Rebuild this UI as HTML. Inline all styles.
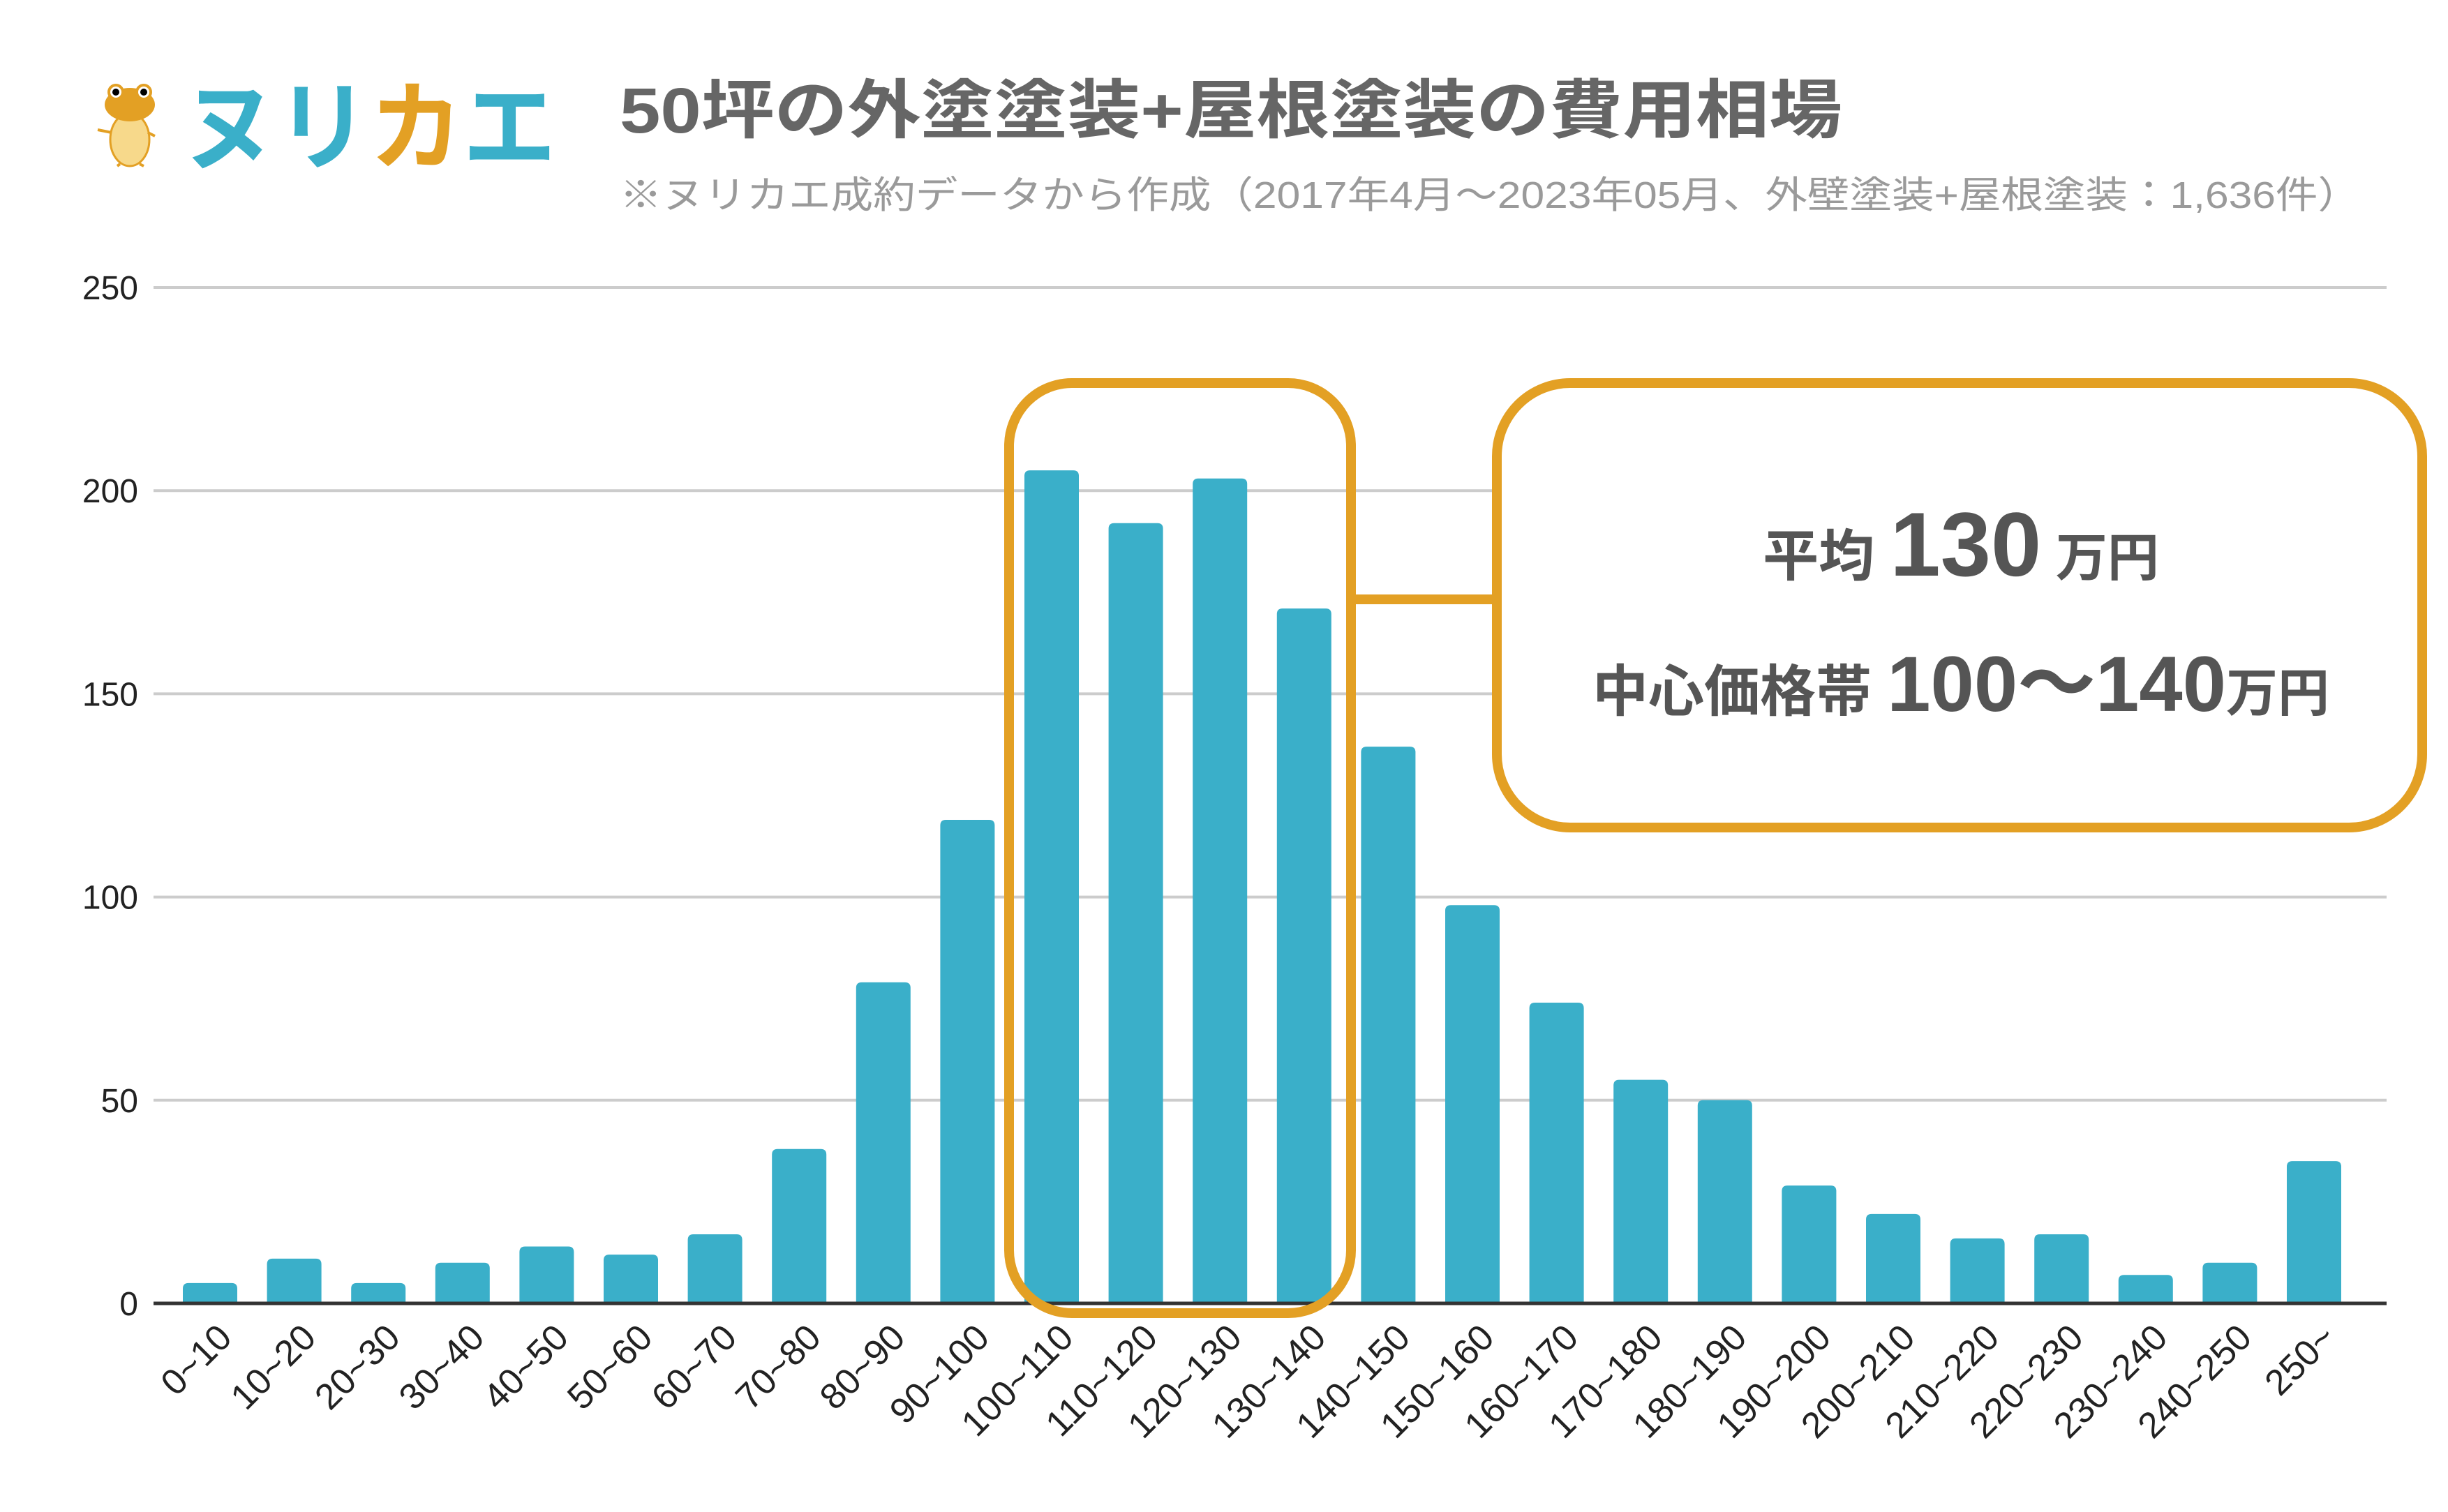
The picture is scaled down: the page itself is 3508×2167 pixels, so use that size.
<!DOCTYPE html>
<html><head><meta charset="utf-8">
<style>
html,body{margin:0;padding:0;background:#fff;}
svg{display:block;}
text{font-family:"Liberation Sans","Noto Sans CJK JP",sans-serif;}
</style></head>
<body>
<svg id="chart" width="3508" height="2167" viewBox="0 0 3508 2167" xmlns="http://www.w3.org/2000/svg">
  <g>
    <g>
      <ellipse cx="186" cy="200" rx="28" ry="38" fill="#F7D98B" stroke="#E3A024" stroke-width="3"/>
      <ellipse cx="186" cy="150" rx="36" ry="24" fill="#E3A024"/>
      <circle cx="166" cy="132" r="10" fill="#fff" stroke="#E3A024" stroke-width="4"/>
      <circle cx="206" cy="132" r="10" fill="#fff" stroke="#E3A024" stroke-width="4"/>
      <circle cx="166" cy="132" r="5" fill="#000"/>
      <circle cx="206" cy="132" r="5" fill="#000"/>
      <path d="M172 235 L168 238 M200 235 L206 238 M160 190 L140 186 M212 190 L222 195" stroke="#E3A024" stroke-width="4" fill="none"/>
    </g>
    <text x="262" y="232" font-size="140" font-weight="bold" textLength="535" lengthAdjust="spacingAndGlyphs"><tspan fill="#3AAFC9">ヌ</tspan><tspan fill="#3AAFC9">リ</tspan><tspan fill="#E3A024">カ</tspan><tspan fill="#3AAFC9">エ</tspan></text>
  </g>
  <text x="888" y="190" font-size="92" font-weight="bold" fill="#666" textLength="1752" lengthAdjust="spacingAndGlyphs">50坪の外塗塗装+屋根塗装の費用相場</text>
  <text x="888" y="298" font-size="54" fill="#9a9a9a" textLength="2494" lengthAdjust="spacingAndGlyphs">※ヌリカエ成約データから作成（2017年4月〜2023年05月、外壁塗装+屋根塗装：1,636件）</text>
  <g id="grid"></g>
  <g id="ylabels"></g>
  <g id="bars"></g>
  <line x1="220" y1="1868" x2="3420" y2="1868" stroke="#333" stroke-width="5"/>
  <g id="xlabels"></g>
  <rect x="1446" y="549" width="490" height="1333" rx="90" ry="90" fill="none" stroke="#E3A024" stroke-width="14"/>
  <line x1="1943" y1="859" x2="2145" y2="859" stroke="#E3A024" stroke-width="14"/>
  <rect x="2145" y="549" width="1326" height="637" rx="105" ry="105" fill="#fff" stroke="#E3A024" stroke-width="14"/>
  <text x="2810" y="825" text-anchor="middle" fill="#555" font-weight="bold"><tspan font-size="80">平均 </tspan><tspan font-size="130">130</tspan><tspan font-size="74"> 万円</tspan></text>
  <text x="2810" y="1019" text-anchor="middle" fill="#555" font-weight="bold"><tspan font-size="80">中心価格帯 </tspan><tspan font-size="112">100〜140</tspan><tspan font-size="74">万円</tspan></text>
</svg>
<script>
const categories = ["0~10","10~20","20~30","30~40","40~50","50~60","60~70","70~80","80~90","90~100","100~110","110~120","120~130","130~140","140~150","150~160","160~170","170~180","180~190","190~200","200~210","210~220","220~230","230~240","240~250","250~"];
const counts = [5,11,5,10,14,12,17,38,79,119,205,192,203,171,137,98,74,55,50,29,22,16,17,7,10,35];
const yTicks = [0,50,100,150,200,250];

const NS = "http://www.w3.org/2000/svg";
const y0 = 1868, yTop = 412, yMax = 250;
const firstCenter = 301, band = 120.6, barW = 78;
function yScale(v){ return y0 - (v / yMax) * (y0 - yTop); }
function xScale(i){ return firstCenter + i * band; }

const grid = document.getElementById('grid');
const ylabels = document.getElementById('ylabels');
yTicks.forEach(t => {
  if (t > 0) {
    const l = document.createElementNS(NS, 'line');
    
    
    l.setAttribute('x1', 220); l.setAttribute('x2', 3420);
    l.setAttribute('y1', yScale(t)); l.setAttribute('y2', yScale(t));
    l.setAttribute('stroke', '#cccccc'); l.setAttribute('stroke-width', '4');
    grid.appendChild(l);
  }
  const tx = document.createElementNS(NS, 'text');
  
  
  tx.setAttribute('x', 198); tx.setAttribute('y', yScale(t) + 17);
  tx.setAttribute('text-anchor', 'end'); tx.setAttribute('font-size', '48'); tx.setAttribute('fill', '#222');
  tx.textContent = t;
  ylabels.appendChild(tx);
});

const bars = document.getElementById('bars');
const xlabels = document.getElementById('xlabels');
counts.forEach((v, i) => {
  const cx = xScale(i), top = yScale(v), h = y0 - top;
  const r = Math.min(8, h / 2);
  const p = document.createElementNS(NS, 'path');
  
  
  const x1 = cx - barW / 2, x2 = cx + barW / 2;
  p.setAttribute('d', `M${x1},${y0} L${x1},${top + r} Q${x1},${top} ${x1 + r},${top} L${x2 - r},${top} Q${x2},${top} ${x2},${top + r} L${x2},${y0} Z`);
  p.setAttribute('fill', '#3AAFC9');
  bars.appendChild(p);

  const tx = document.createElementNS(NS, 'text');
  
  
  const ax = cx + 34, ay = 1920;
  tx.setAttribute('x', ax); tx.setAttribute('y', ay);
  tx.setAttribute('text-anchor', 'end'); tx.setAttribute('font-size', '52'); tx.setAttribute('fill', '#222');
  tx.setAttribute('transform', `rotate(-45 ${ax} ${ay})`);
  tx.textContent = categories[i];
  xlabels.appendChild(tx);
});
</script>
</body></html>
